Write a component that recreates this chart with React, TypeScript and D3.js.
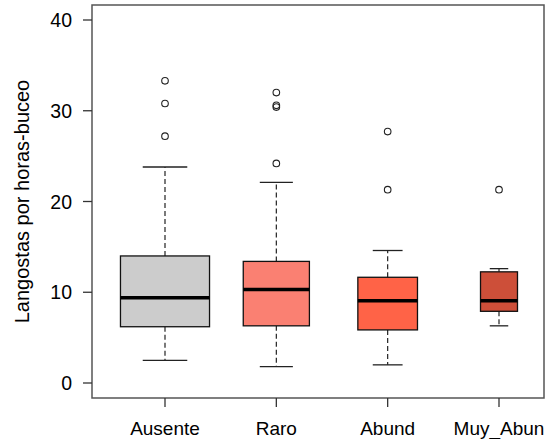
import React from "react";
import * as d3 from "d3";

const categories = ["Ausente", "Raro", "Abund", "Muy_Abun"];
const counts = [58, 32, 26, 10];
const lowerWhisker = [2.5, 1.8, 2.0, 6.3];
const q1 = [6.2, 6.3, 5.85, 7.9];
const median = [9.4, 10.3, 9.05, 9.05];
const q3 = [14.0, 13.4, 11.65, 12.25];
const upperWhisker = [23.8, 22.1, 14.6, 12.6];
const outliers = [
  [33.3, 30.8, 27.2],
  [32.0, 30.6, 30.4, 24.2],
  [27.7, 21.3],
  [21.3],
];
const colors = ["#CCCCCC", "#FA8072", "#FF6347", "#CD4F39"];
const yTicks = [0, 10, 20, 30, 40];

const W = 545;
const H = 439;
const frame = { left: 92, right: 544, top: 5, bottom: 398 };
const font = "'Liberation Sans', Arial, sans-serif";

export default function App() {
  const y = d3.scaleLinear().domain([0, 40]).range([383, 20]);
  const x = d3.scaleLinear().domain([1, 4]).range([165, 499]);
  const unit = x(2) - x(1);
  const maxN = d3.max(counts) as number;

  return (
    <svg
      width={W}
      height={H}
      style={{ position: "absolute", left: 0, top: 0, background: "#fff" }}
      fontFamily={font}
    >
      <rect x={0} y={0} width={W} height={H} fill="#fff" />
      {categories.map((c, i) => {
        const cx = x(i + 1);
        const bw = 0.8 * unit * Math.sqrt(counts[i] / maxN);
        const cw = bw / 2;
        return (
          <g key={c}>
            <line x1={cx} x2={cx} y1={y(q3[i])} y2={y(upperWhisker[i])} stroke="#222" strokeWidth={1.2} strokeDasharray="5,3" />
            <line x1={cx} x2={cx} y1={y(q1[i])} y2={y(lowerWhisker[i])} stroke="#222" strokeWidth={1.2} strokeDasharray="5,3" />
            <line x1={cx - cw / 2} x2={cx + cw / 2} y1={y(upperWhisker[i])} y2={y(upperWhisker[i])} stroke="#222" strokeWidth={1.3} />
            <line x1={cx - cw / 2} x2={cx + cw / 2} y1={y(lowerWhisker[i])} y2={y(lowerWhisker[i])} stroke="#222" strokeWidth={1.3} />
            <rect x={cx - bw / 2} y={y(q3[i])} width={bw} height={y(q1[i]) - y(q3[i])} fill={colors[i]} stroke="#111" strokeWidth={1.3} />
            <line x1={cx - bw / 2} x2={cx + bw / 2} y1={y(median[i])} y2={y(median[i])} stroke="#000" strokeWidth={3.5} />
            {outliers[i].map((v, k) => (
              <circle key={k} cx={cx} cy={y(v)} r={3.3} fill="none" stroke="#222" strokeWidth={1.1} />
            ))}
          </g>
        );
      })}
      <rect x={frame.left} y={frame.top} width={frame.right - frame.left} height={frame.bottom - frame.top} fill="none" stroke="#555" strokeWidth={1.5} />
      {yTicks.map((t) => (
        <g key={t}>
          <line x1={frame.left - 9} x2={frame.left} y1={y(t)} y2={y(t)} stroke="#333" strokeWidth={1.3} />
          <text x={frame.left - 20} y={y(t)} dy="0.36em" textAnchor="end" fontSize={19.5} fill="#000">
            {t}
          </text>
        </g>
      ))}
      {categories.map((c, i) => (
        <g key={c}>
          <line x1={x(i + 1)} x2={x(i + 1)} y1={frame.bottom} y2={frame.bottom + 9} stroke="#333" strokeWidth={1.3} />
          <text x={x(i + 1)} y={435} textAnchor="middle" fontSize={19} fill="#000">
            {c}
          </text>
        </g>
      ))}
      <text
        transform={`translate(29, 201.5) rotate(-90)`}
        textAnchor="middle"
        fontSize={20}
        fill="#000"
      >
        Langostas por horas-buceo
      </text>
    </svg>
  );
}
